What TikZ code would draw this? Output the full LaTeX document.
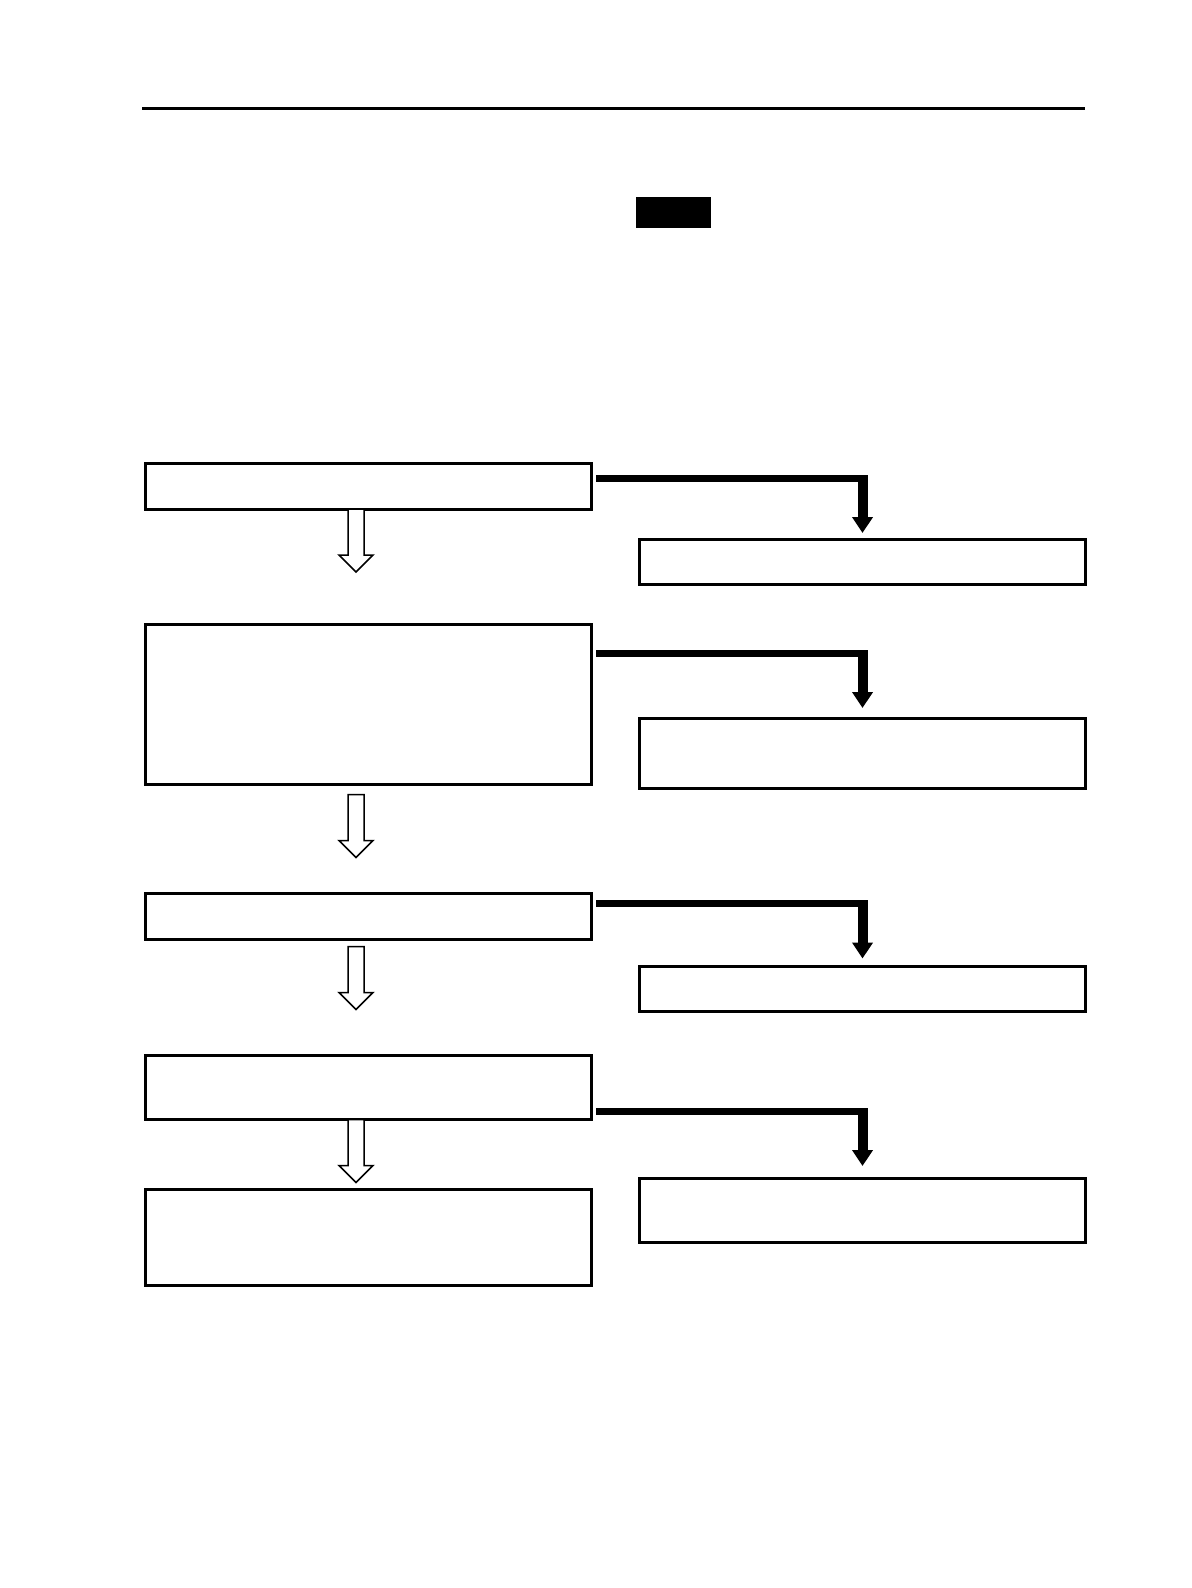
\documentclass[tikz,border=0pt]{standalone}
\usetikzlibrary{arrows.meta, calc}

\tikzset{
  stepbox/.style={draw, line width=1.5pt, minimum width=223pt, inner sep=0pt, outer sep=0pt},
  elbowline/.style={line width=3.5pt, shorten >=-2.5pt},
  elbowdrop/.style={line width=5pt, -{Triangle[width=10pt, length=8pt]}},
  hollowdown/.pic={
    \draw[line width=0.75pt, fill=white] (-8,0) -- (-8,46) -- (-17,46) -- (0,63)
      -- (17,46) -- (8,46) -- (8,0) -- cycle;
  }
}

\begin{document}
\begin{tikzpicture}[x=0.5pt, y=-0.5pt]
  \useasboundingbox (0,0) rectangle (1191,1588);
  % header rule and black tab
  \draw[line width=1.5pt] (142,109) -- (1085,109);
  \node[fill, inner sep=0pt, minimum width=37.5pt, minimum height=15.5pt] (tab) at (673.5,212.5) {};
  % left column
  \node[stepbox, minimum height=23pt] (l1) at (368,486) {};
  \node[stepbox, minimum height=80pt] (l2) at (368,704.5) {};
  \node[stepbox, minimum height=23pt] (l3) at (368,916.5) {};
  \node[stepbox, minimum height=32pt] (l4) at (368,1087.5) {};
  \node[stepbox, minimum height=48pt] (l5) at (368,1237.5) {};
  % right column
  \node[stepbox, minimum height=22.5pt] (r1) at (862.5,562) {};
  \node[stepbox, minimum height=35pt] (r2) at (862.5,753.5) {};
  \node[stepbox, minimum height=22.5pt] (r3) at (862.5,989) {};
  \node[stepbox, minimum height=32pt] (r4) at (862.5,1210.5) {};
  % hollow arrows down the left column
  \pic at ($(l1.south)+(-12,0)$) {hollowdown};
  \pic at ($(l2.south)+(-12,10)$) {hollowdown};
  \pic at ($(l3.south)+(-12,7)$) {hollowdown};
  \pic at ($(l4.south)+(-12,0)$) {hollowdown};
  % elbow arrows to the right column
  \coordinate (s1) at ($(l1.north east)+(5,15.5)$);
  \coordinate (c1) at (r1.north |- s1);
  \draw[elbowline] (s1) -- (c1);
  \draw[elbowdrop] ($(c1)+(0,-3.5)$) -- ($(r1.north)+(0,-6.5)$);
  \coordinate (s2) at ($(l2.north east)+(5,29)$);
  \coordinate (c2) at (r2.north |- s2);
  \draw[elbowline] (s2) -- (c2);
  \draw[elbowdrop] ($(c2)+(0,-3.5)$) -- ($(r2.north)+(0,-10.5)$);
  \coordinate (s3) at ($(l3.north east)+(5,10)$);
  \coordinate (c3) at (r3.north |- s3);
  \draw[elbowline] (s3) -- (c3);
  \draw[elbowdrop] ($(c3)+(0,-3.5)$) -- ($(r3.north)+(0,-8)$);
  \coordinate (s4) at ($(l4.north east)+(5,56)$);
  \coordinate (c4) at (r4.north |- s4);
  \draw[elbowline] (s4) -- (c4);
  \draw[elbowdrop] ($(c4)+(0,-3.5)$) -- ($(r4.north)+(0,-12.5)$);
\end{tikzpicture}
\end{document}
